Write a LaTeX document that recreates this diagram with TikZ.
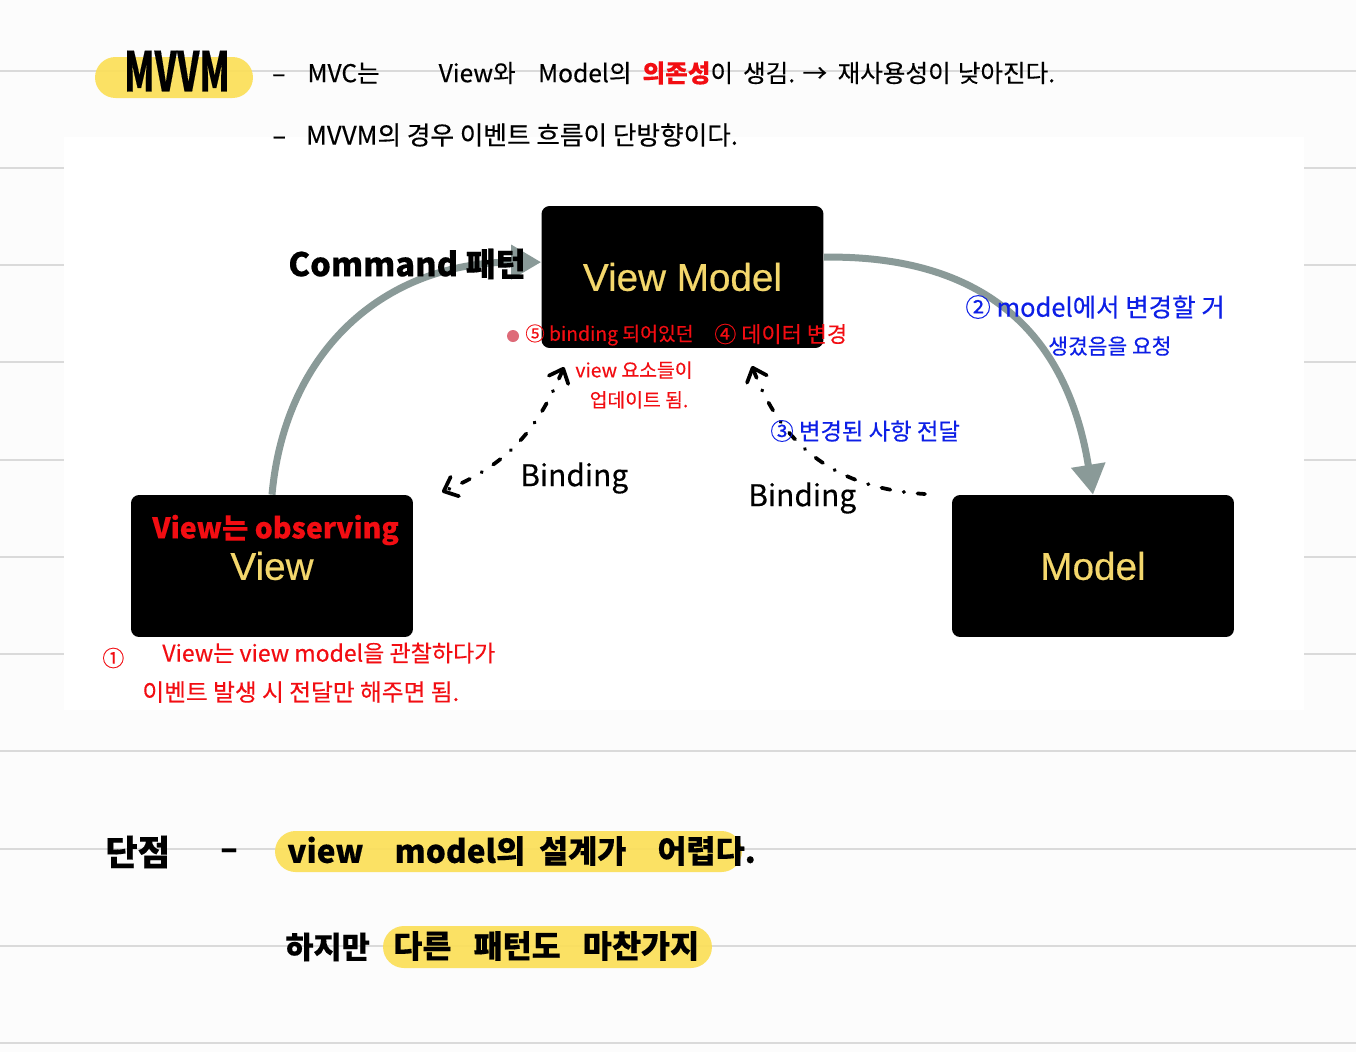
\documentclass[tikz,border=0pt]{standalone}
\usepackage{fontspec}
\usepackage{graphicx}
\usepackage{xcolor}
\usetikzlibrary{arrows.meta, shapes.misc}
\setmainfont[FakeBold=0.3]{Noto Sans CJK KR}
\newfontfamily\boxfont[FakeBold=0.5]{Liberation Sans}
\definecolor{paper-bg}{HTML}{FCFCFC}
\definecolor{rule-gray}{HTML}{DADADA}
\definecolor{box-black}{HTML}{000000}
\definecolor{box-gold}{HTML}{F4D76C}
\definecolor{marker-yellow}{HTML}{FBDF58}
\definecolor{arrow-gray}{HTML}{8A9A98}
\definecolor{note-red}{HTML}{F20D12}
\definecolor{note-blue}{HTML}{0D1FE6}
\definecolor{dot-pink}{HTML}{DE6A78}
\tikzset{
  blackbox/.style={fill=box-black, rounded corners=0.16cm, minimum width=5.64cm,
    minimum height=2.84cm, align=center, text=box-gold,
    font=\boxfont\fontsize{22}{26}\selectfont},
  markerpill/.style={rounded rectangle, fill=marker-yellow, fill opacity=0.92,
    inner sep=0pt},
  grayarrow/.style={draw=arrow-gray, line width=0.14cm,
    -{Triangle[length=0.6cm, width=0.66cm]}},
  bindarrow/.style={line width=0.075cm, line cap=round, line join=round,
    dash pattern=on 0.18cm off 0.27cm on 0.01cm off 0.27cm},
  bindtip/.style={{Straight Barb[round, length=0.24cm, width=0.42cm]}-},
  bindboth/.style={{Straight Barb[round, length=0.24cm, width=0.42cm]}-{Straight Barb[round, length=0.24cm, width=0.42cm]}},
  penblack/.style={text=black, inner sep=0pt, anchor=west, font=\fontsize{14}{17}\selectfont},
  penbold/.style={text=black, inner sep=0pt, anchor=west, font=\bfseries\fontsize{18}{22}\selectfont},
  penred/.style={text=note-red, inner sep=0pt, anchor=west, font=\fontsize{11}{14}\selectfont},
  penblue/.style={text=note-blue, inner sep=0pt, anchor=west, font=\fontsize{13.3}{16}\selectfont}
}

\begin{document}
\begin{tikzpicture}[x=0.02cm, y=-0.02cm]
    \useasboundingbox (0,0) rectangle (1356,1052);
    \fill[paper-bg] (0,0) rectangle (1356,1052);
    \foreach \ruley in {71,168,265,362,460,557,654,751,849,946,1043}
      \draw[rule-gray, line width=0.05cm] (0,\ruley) -- (1356,\ruley);
    \fill[white] (64,137) rectangle (1304,710);

    \node[markerpill, minimum width=3.16cm, minimum height=0.82cm] (PillMVVM) at (174,77.5) {};
    \node[markerpill, minimum width=9.34cm, minimum height=0.82cm] (PillCons) at (508.5,851.5) {};
    \node[markerpill, minimum width=6.58cm, minimum height=0.84cm] (PillOther) at (547.5,947) {};

    \node[blackbox] (ViewModel) at (682.5,277) {View Model};
    \node[blackbox] (View) at (272,566) {View};
    \node[blackbox] (Model) at (1093,566) {Model};

    \draw[grayarrow] (View.north) .. controls (285,350) and (385,262) .. (ViewModel.174);
    \draw[grayarrow] (ViewModel.8) .. controls (970,255) and (1065,320) .. (Model.north);

    \coordinate (BindLeftTop) at (564,367);
    \coordinate (BindLeftEnd) at (442,492);
    \coordinate (BindRightTop) at (752,366);
    \coordinate (BindRightEnd) at (925,494);
    \draw[bindarrow, bindboth] (BindLeftTop) .. controls (535,435) and (505,465) .. (BindLeftEnd);
    \draw[bindarrow, bindtip] (BindRightTop) .. controls (778,435) and (825,488) .. (BindRightEnd);

    \node[penbold, anchor=center] (TitleMVVM) at (177,71) {\scalebox{0.82}[1.3]{\fontsize{24}{28}\selectfont MVVM}};
    \node[penblack] (NoteCoupling) at (272,73) {–\hspace{0.44cm}MVC는\hspace{1.18cm}View와\hspace{0.45cm}Model의\hspace{0.22cm}\textcolor{note-red}{\bfseries 의존성}이\hspace{0.2cm}생김. →\hspace{0.1cm} 재사용성이\hspace{0.14cm}낮아진다.};
    \node[penblack, font=\fontsize{14.6}{17}\selectfont] (NoteFlow) at (272,135) {–\hspace{0.4cm}MVVM의 경우 이벤트 흐름이 단방향이다.};

    \node[penbold, font=\bfseries\fontsize{18.6}{22}\selectfont] (LabelCommand) at (288,264) {Command 패턴};
    \node[penred, font=\bfseries\fontsize{16.2}{20}\selectfont] (NoteObserve) at (152,530) {View는 observing};

    \node[circle, fill=dot-pink, minimum size=0.24cm, inner sep=0pt] (PinkDot) at (513,336) {};
    \node[penred] (NoteFive) at (525,335) {⑤ binding 되어있던};
    \node[penred, font=\fontsize{12.5}{16}\selectfont] (NoteFour) at (714,334) {④ 데이터 변경};
    \node[penred, anchor=center, align=center, font=\fontsize{11}{17}\selectfont] (NoteUpdate) at (634,385) {view 요소들이\\\hspace{0.2cm}업데이트 됨.};

    \node[penblue] (NoteThree) at (770,431) {③ 변경된 사항 전달};
    \node[penblue, font=\fontsize{14.5}{16}\selectfont] (NoteTwo) at (965,307) {② model에서 변경할 거};
    \node[penblue, font=\fontsize{12.2}{16}\selectfont] (NoteTwoB) at (1048,346) {생겼음을 요청};

    \node[penbold, font=\fontsize{17}{20}\selectfont] (LabelBindLeft) at (520,478) {Binding};
    \node[penbold, font=\fontsize{17}{20}\selectfont] (LabelBindRight) at (748,498) {Binding};

    \node[penred, font=\fontsize{12.5}{16}\selectfont] (NoteOneMark) at (102,658) {①};
    \node[penred, font=\fontsize{13.1}{16}\selectfont] (NoteOne) at (162,653) {View는 view model을 관찰하다가};
    \node[penred, font=\fontsize{13.5}{16}\selectfont] (NoteOneB) at (142,692) {이벤트 발생 시 전달만 해주면 됨.};

    \node[penbold, font=\bfseries\fontsize{20}{24}\selectfont] (LabelCons) at (105,852) {단점};
    \node[penbold] (LabelDash) at (220,854) {–};
    \node[penbold] (NoteCons) at (287,851) {view\hspace{0.62cm}model의\hspace{0.28cm}설계가\hspace{0.62cm}어렵다.};
    \node[penbold, font=\bfseries\fontsize{17.4}{22}\selectfont] (LabelBut) at (285,947) {하지만};
    \node[penbold] (NoteOther) at (393,946) {다른\hspace{0.44cm}패턴도\hspace{0.44cm}마찬가지};
  \end{tikzpicture}
\end{document}
